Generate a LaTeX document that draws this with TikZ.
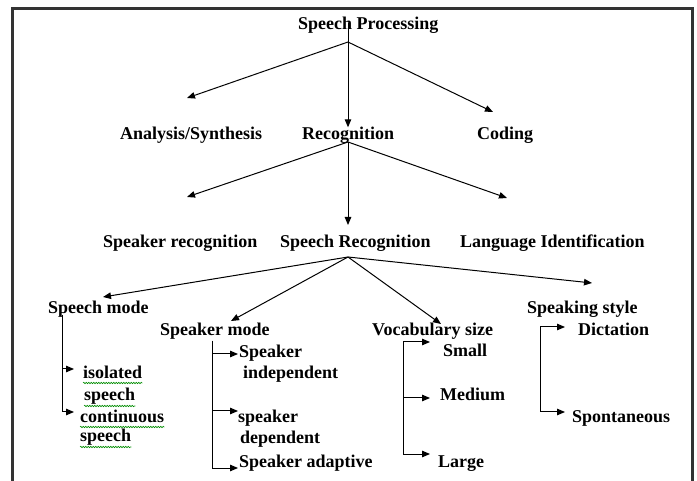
\documentclass[tikz,border=0pt]{standalone}
\usepackage{fontspec}
\setmainfont{Liberation Serif}
\usetikzlibrary{arrows.meta,decorations.pathmorphing}
\begin{document}
\begin{tikzpicture}[x=1pt,y=-1pt,
  lbl/.style={anchor=base west,inner sep=0pt,font=\bfseries\fontsize{18}{21}\selectfont},
  arr/.style={-{Triangle[length=8pt,width=6.5pt]},line width=1pt},
  spell/.style={green!55!black,line width=.6pt,decorate,
    decoration={snake,amplitude=.7pt,segment length=2.5pt}}]
\useasboundingbox (0,0) rectangle (697,481);
\draw[line width=3pt,color=black!80] (12.5,484) -- (12.5,8.5) -- (692,8.5) -- (692,484);
% first level
\node[lbl] (proc) at (298,30) {Speech Processing};
\node[lbl] (anasyn) at (120,140) {Analysis/Synthesis};
\node[lbl] (recog) at (302,140) {Recognition};
\node[lbl] (coding) at (477,140) {Coding};
\coordinate (proctop) at (348,23);
\coordinate (procsplit) at (348,42);
\coordinate (anatip) at (187,98);
\coordinate (codtip) at (493,112);
\draw[arr] (procsplit) -- (anatip);
\draw[arr] (procsplit) -- (codtip);
\draw[arr] (proctop) -- (recog.north -| proctop);
% second level
\node[lbl] (spkrec) at (103,248) {Speaker recognition};
\node[lbl] (srec) at (280,248) {Speech Recognition};
\node[lbl] (langid) at (460,248) {Language Identification};
\coordinate (recsplit) at (348,142);
\coordinate (spkrtip) at (187,197);
\coordinate (langtip) at (507,198);
\coordinate (sretip) at (348,225);
\draw[arr] (recsplit) -- (spkrtip);
\draw[arr] (recsplit) -- (langtip);
\draw[arr] (recsplit) -- (sretip);
% third level
\node[lbl] (smode) at (48,314) {Speech mode};
\node[lbl] (spkmode) at (160,336) {Speaker mode};
\node[lbl] (vocab) at (372,336) {Vocabulary size};
\node[lbl] (sstyle) at (527,314) {Speaking style};
\coordinate (srsplit) at (348,257);
\coordinate (smtip) at (103,297);
\coordinate (spmtip) at (231,321);
\coordinate (voctip) at (441,324);
\coordinate (sttip) at (592,283);
\draw[arr] (srsplit) -- (smtip);
\draw[arr] (srsplit) -- (spmtip);
\draw[arr] (srsplit) -- (voctip);
\draw[arr] (srsplit) -- (sttip);
% speech mode
\node[lbl] (iso) at (83,378) {isolated};
\node[lbl] (isob) at (84,401) {speech};
\node[lbl] (cont) at (80,422) {continuous};
\node[lbl] (contb) at (80,442) {speech};
\coordinate (smtop) at (62,315);
\coordinate (isotip) at (74,369);
\coordinate (contip) at (74,412);
\draw[arr] (smtop) |- (isotip);
\draw[arr] (smtop) |- (contip);
\foreach \w in {iso,isob,cont,contb}
  \draw[spell] ([yshift=-5pt]\w.base west) -- ([yshift=-5pt]\w.base east);
% speaker mode
\node[lbl] (indep) at (239,358) {Speaker};
\node[lbl] (indepb) at (243,379) {independent};
\node[lbl] (dep) at (238,422) {speaker};
\node[lbl] (depb) at (240,443) {dependent};
\node[lbl] (adapt) at (239,467) {Speaker adaptive};
\coordinate (spmtop) at (212,341);
\coordinate (indtip) at (238,354);
\coordinate (deptip) at (238,411);
\coordinate (adatip) at (238,468);
\draw[arr] (spmtop) |- (indtip);
\draw[arr] (spmtop) |- (deptip);
\draw[arr] (spmtop) |- (adatip);
% vocabulary size
\node[lbl] (small) at (443,357) {Small};
\node[lbl] (medium) at (440,401) {Medium};
\node[lbl] (large) at (438,467) {Large};
\coordinate (voctop) at (403,342);
\coordinate (smltip) at (430,342);
\coordinate (medtip) at (430,398);
\coordinate (lrgtip) at (430,454);
\draw[arr] (voctop) -- (smltip);
\draw[arr] (voctop) |- (medtip);
\draw[arr] (voctop) |- (lrgtip);
% speaking style
\node[lbl] (dict) at (578,336) {Dictation};
\node[lbl] (spont) at (572,422) {Spontaneous};
\coordinate (sttop) at (540,327);
\coordinate (dictip) at (565,327);
\coordinate (spotip) at (565,412);
\draw[arr] (sttop) -- (dictip);
\draw[arr] (sttop) |- (spotip);
\end{tikzpicture}
\end{document}
